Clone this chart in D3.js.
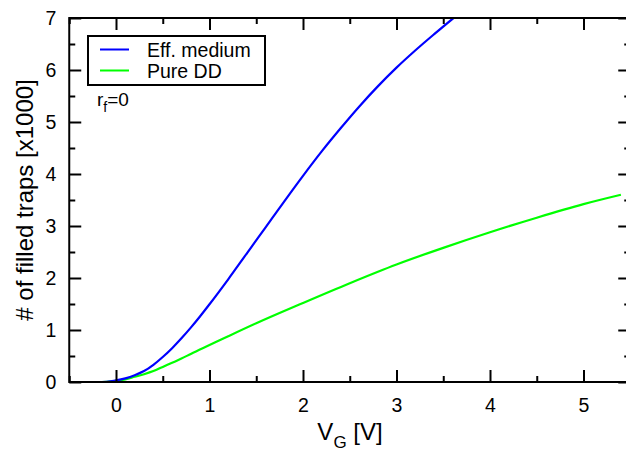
<!DOCTYPE html>
<html>
<head>
<meta charset="utf-8">
<script src="https://cdn.jsdelivr.net/npm/d3@7"></script>
<style>
  html, body { margin: 0; padding: 0; background: #fff; }
  svg { display: block; font-family: "Liberation Sans", Arial, sans-serif; }
</style>
</head>
<body>
<svg id="chart" width="626" height="451"></svg>
<script>
// Gate voltage (V) and number of filled traps (in thousands)
const effMediumV = [-0.22, -0.1, 0, 0.1, 0.2, 0.3, 0.4, 0.5, 0.6, 0.7, 0.8, 0.9, 1.0, 1.2, 1.4, 1.6, 1.8, 2.0, 2.2, 2.4, 2.6, 2.8, 3.0, 3.2, 3.4, 3.6, 3.7];
const effMediumN = [0, 0.005, 0.03, 0.07, 0.13, 0.21, 0.33, 0.48, 0.65, 0.84, 1.045, 1.265, 1.495, 1.975, 2.475, 2.975, 3.475, 3.965, 4.435, 4.875, 5.295, 5.685, 6.045, 6.375, 6.685, 6.985, 7.13];
const pureDDV = [-0.22, -0.1, 0, 0.1, 0.2, 0.3, 0.4, 0.5, 0.6, 0.7, 0.8, 1.0, 1.2, 1.5, 2.0, 2.5, 3.0, 3.5, 4.0, 4.5, 5.0, 5.4];
const pureDDN = [0, 0.005, 0.02, 0.05, 0.1, 0.15, 0.21, 0.29, 0.37, 0.45, 0.54, 0.71, 0.88, 1.13, 1.52, 1.9, 2.26, 2.58, 2.88, 3.16, 3.42, 3.6];

const seriesNames = ["Eff. medium", "Pure DD"];
const seriesColors = ["#0000ff", "#00ff00"];
const xTicks = [0, 1, 2, 3, 4, 5];
const xMinorTicks = [-0.5, 0.5, 1.5, 2.5, 3.5, 4.5];
const yTicks = [0, 1, 2, 3, 4, 5, 6, 7];
const yMinorTicks = [0.5, 1.5, 2.5, 3.5, 4.5, 5.5, 6.5];

const svg = d3.select("#chart");
const plotL = 69.25, plotR = 630.25, plotT = 18, plotB = 382;

const x = d3.scaleLinear().domain([-0.5, 5.5]).range([plotL, plotR]);
const y = d3.scaleLinear().domain([0, 7]).range([plotB, plotT]);

// clip the curves to the frame
svg.append("defs").append("clipPath").attr("id", "plotClip")
  .append("rect").attr("x", plotL).attr("y", plotT)
  .attr("width", plotR - plotL).attr("height", plotB - plotT);

const series = [
  { name: seriesNames[0], color: seriesColors[0], pts: effMediumV.map((v, i) => [v, effMediumN[i]]) },
  { name: seriesNames[1], color: seriesColors[1], pts: pureDDV.map((v, i) => [v, pureDDN[i]]) }
];

const line = d3.line().x(d => x(d[0])).y(d => y(d[1])).curve(d3.curveMonotoneX);

const curves = svg.append("g").attr("clip-path", "url(#plotClip)");
// draw green first so blue sits on top near the origin
[series[1], series[0]].forEach(s => {
  curves.append("path").datum(s.pts)
    .attr("d", line)
    .attr("fill", "none")
    .attr("stroke", s.color)
    .attr("stroke-width", 2.2)
    .attr("stroke-linejoin", "round");
});

// axes: ticks point inward on all four sides
function styleAxis(g) {
  g.selectAll(".domain").remove();
  g.selectAll(".tick line").attr("stroke", "#000").attr("stroke-width", 2);
  g.selectAll(".tick text").attr("fill", "#000").style("font-size", "19.5px");
}

const fmt = d3.format("d");
svg.append("g").attr("transform", `translate(0,${plotB})`)
  .call(d3.axisBottom(x).tickValues(xTicks).tickSize(-12).tickPadding(16).tickFormat(fmt))
  .call(styleAxis);
svg.append("g").attr("transform", `translate(0,${plotB})`)
  .call(d3.axisBottom(x).tickValues(xMinorTicks).tickSize(-6).tickFormat(""))
  .call(styleAxis);
svg.append("g").attr("transform", `translate(0,${plotT})`)
  .call(d3.axisTop(x).tickValues(xTicks).tickSize(-12).tickFormat(""))
  .call(styleAxis);
svg.append("g").attr("transform", `translate(0,${plotT})`)
  .call(d3.axisTop(x).tickValues(xMinorTicks).tickSize(-6).tickFormat(""))
  .call(styleAxis);

svg.append("g").attr("transform", `translate(${plotL},0)`)
  .call(d3.axisLeft(y).tickValues(yTicks).tickSize(-12).tickPadding(13).tickFormat(fmt))
  .call(styleAxis);
svg.append("g").attr("transform", `translate(${plotL},0)`)
  .call(d3.axisLeft(y).tickValues(yMinorTicks).tickSize(-6).tickFormat(""))
  .call(styleAxis);
svg.append("g").attr("transform", `translate(${plotR},0)`)
  .call(d3.axisRight(y).tickValues(yTicks).tickSize(-12).tickFormat(""))
  .call(styleAxis);
svg.append("g").attr("transform", `translate(${plotR},0)`)
  .call(d3.axisRight(y).tickValues(yMinorTicks).tickSize(-6).tickFormat(""))
  .call(styleAxis);

// frame
svg.append("rect").attr("x", plotL).attr("y", plotT)
  .attr("width", plotR - plotL).attr("height", plotB - plotT)
  .attr("fill", "none").attr("stroke", "#000").attr("stroke-width", 2);

// axis titles
const xTitle = svg.append("text").attr("x", 350).attr("y", 440)
  .attr("text-anchor", "middle").style("font-size", "24px").attr("fill", "#000");
xTitle.append("tspan").text("V");
xTitle.append("tspan").attr("dy", 8).style("font-size", "17px").text("G");
xTitle.append("tspan").attr("dy", -8).text(" [V]");

svg.append("text")
  .attr("transform", `translate(33,${(plotT + plotB) / 2}) rotate(-90)`)
  .attr("text-anchor", "middle").style("font-size", "24px").attr("fill", "#000")
  .text("# of filled traps [x1000]");

// legend
const legend = svg.append("g");
legend.append("rect").attr("x", 88).attr("y", 36).attr("width", 177).attr("height", 49)
  .attr("fill", "#fff").attr("stroke", "#000").attr("stroke-width", 2);
series.forEach((s, i) => {
  const ly = 49.5 + i * 21;
  legend.append("line").attr("x1", 100).attr("x2", 129).attr("y1", ly).attr("y2", ly)
    .attr("stroke", s.color).attr("stroke-width", 2);
  legend.append("text").attr("x", 147).attr("y", ly + 7)
    .style("font-size", "19.5px").attr("fill", "#000").text(s.name);
});

// annotation
const note = svg.append("text").attr("x", 97).attr("y", 106)
  .style("font-size", "19px").attr("fill", "#000");
note.append("tspan").text("r");
note.append("tspan").attr("dy", 6).style("font-size", "14px").text("f");
note.append("tspan").attr("dy", -6).text("=0");
</script>
</body>
</html>
